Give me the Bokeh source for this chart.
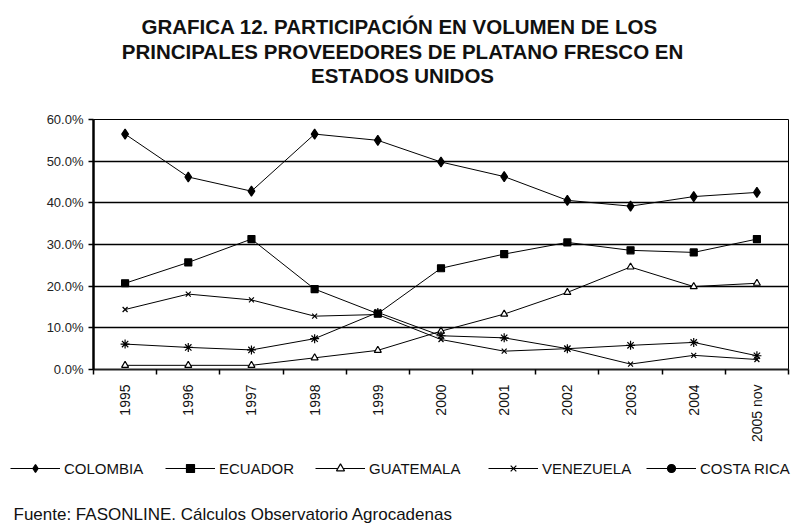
import math
import numpy as np
from bokeh.plotting import figure
from bokeh.layouts import column
from bokeh.models import (Range1d, FixedTicker, PrintfTickFormatter, Label,
                          Legend, LegendItem)
from bokeh.embed import file_html
from bokeh.resources import INLINE

# ---------------- data ----------------
years = ["1995", "1996", "1997", "1998", "1999", "2000", "2001", "2002",
         "2003", "2004", "2005 nov"]
colombia = [56.5, 46.2, 42.8, 56.5, 55.0, 49.8, 46.3, 40.6, 39.2, 41.5, 42.5]
ecuador = [20.7, 25.7, 31.3, 19.3, 13.4, 24.3, 27.7, 30.5, 28.6, 28.1, 31.3]
guatemala = [1.0, 1.0, 1.0, 2.8, 4.6, 9.2, 13.3, 18.5, 24.6, 19.9, 20.7]
venezuela = [14.4, 18.1, 16.7, 12.8, 13.2, 7.2, 4.4, 5.0, 1.3, 3.4, 2.4]
costa_rica = [6.1, 5.3, 4.7, 7.4, 13.7, 8.1, 7.6, 5.0, 5.8, 6.5, 3.3]

series_names = ["COLOMBIA", "ECUADOR", "GUATEMALA", "VENEZUELA", "COSTA RICA"]
title_lines = ["GRAFICA 12.  PARTICIPACIÓN EN VOLUMEN DE LOS",
               "PRINCIPALES PROVEEDORES DE PLATANO FRESCO EN",
               "ESTADOS UNIDOS"]
source_text = "Fuente: FASONLINE. Cálculos Observatorio Agrocadenas"

FONT = "Liberation Sans"
W = 795
TOP_H = 109
CH_TOP, CH_FRAME, CH_BOT = 10, 250, 85
CH_H = CH_TOP + CH_FRAME + CH_BOT
BOT_H = 525 - TOP_H - CH_H
FL, FR = 93, 788


def no_align(f):
    try:
        f.frame_align = False
    except AttributeError:
        pass


def blank_fig(h):
    f = figure(width=W, height=h, output_backend="svg", toolbar_location=None,
               x_range=Range1d(0, W), y_range=Range1d(0, h),
               x_axis_type=None, y_axis_type=None,
               min_border=0, min_border_left=0, min_border_right=0,
               min_border_top=0, min_border_bottom=0)
    f.outline_line_color = None
    f.xgrid.grid_line_color = None
    f.ygrid.grid_line_color = None
    f.background_fill_color = "white"
    f.border_fill_color = "white"
    no_align(f)
    return f


# ---------------- title figure ----------------
top = blank_fig(TOP_H)
for i, line in enumerate(title_lines):
    top.add_layout(Label(x=402, y=TOP_H - (26 + 24.5 * i), x_units="screen", y_units="screen",
                         text=line, text_align="center", text_baseline="alphabetic",
                         text_font=FONT, text_font_style="bold", text_font_size="20.5px",
                         text_color="#111"))

# ---------------- chart figure ----------------
p = figure(width=W, height=CH_H, output_backend="svg", toolbar_location=None,
           x_range=Range1d(0, len(years)), y_range=Range1d(0, 60),
           min_border_left=FL, min_border_right=W - FR,
           min_border_top=CH_TOP, min_border_bottom=CH_BOT)
no_align(p)
p.background_fill_color = "white"
p.border_fill_color = "white"
p.outline_line_color = "black"
p.outline_line_width = 1

xs = np.arange(len(years)) + 0.5

p.xaxis.ticker = FixedTicker(ticks=list(xs), minor_ticks=list(range(len(years) + 1)))
p.xaxis.major_label_overrides = {float(x): y for x, y in zip(xs, years)}
p.xaxis.major_label_orientation = math.pi / 2
p.xaxis.major_tick_line_color = None
p.xaxis.major_tick_out = 0
p.xaxis.major_tick_in = 0
p.xaxis.minor_tick_out = 5
p.xaxis.minor_tick_in = 0
p.xaxis.minor_tick_line_color = "black"
p.xaxis.minor_tick_line_width = 1.5
p.xaxis.major_label_standoff = 10
p.xaxis.major_label_text_font = FONT
p.xaxis.major_label_text_font_size = "14px"
p.xaxis.major_label_text_color = "#111"
p.xaxis.axis_line_width = 2
p.xaxis.axis_line_color = "#222"

p.yaxis.ticker = FixedTicker(ticks=[0, 10, 20, 30, 40, 50, 60])
p.yaxis.formatter = PrintfTickFormatter(format="%.1f%%")
p.yaxis.minor_tick_line_color = None
p.yaxis.major_tick_out = 5
p.yaxis.major_tick_in = 0
p.yaxis.major_tick_line_width = 1.5
p.yaxis.major_label_standoff = 5
p.yaxis.major_label_text_font = FONT
p.yaxis.major_label_text_font_size = "13px"
p.yaxis.major_label_text_color = "#222"
p.yaxis.axis_line_width = 2.5
p.yaxis.axis_line_color = "black"

p.xgrid.grid_line_color = None
p.ygrid.ticker = FixedTicker(ticks=[10, 20, 30, 40, 50, 60])
p.ygrid.grid_line_color = "black"
p.ygrid.grid_line_width = 1.5

styles = [
    (colombia, dict(marker="diamond", size=10, fill_color="black")),
    (ecuador, dict(marker="square", size=7, fill_color="black")),
    (guatemala, dict(marker="triangle", size=7, fill_color="white")),
    (venezuela, dict(marker="x", size=7, fill_color="black")),
    (costa_rica, dict(marker="asterisk", size=9, fill_color="black")),
]
for vals, st in styles:
    p.line(xs, vals, line_color="black", line_width=1)
    p.scatter(xs, vals, line_color="black", line_width=1.2, **st)

# ---------------- legend + source figure ----------------
bot = blank_fig(BOT_H)
leg_x = [10, 165, 315, 488, 646]
leg_markers = [dict(marker="diamond", size=8, fill_color="black"),
               dict(marker="square", size=7, fill_color="black"),
               dict(marker="triangle", size=7, fill_color="white"),
               dict(marker="x", size=7, fill_color="black"),
               dict(marker="circle", size=4, fill_color="black")]
for name, st, lx in zip(series_names, leg_markers, leg_x):
    # legend-only renderers (a single NaN point, nothing is drawn in the plot)
    lr = bot.line(x=[np.nan], y=[np.nan], line_color="black", line_width=1.2)
    sr = bot.scatter(x=[np.nan], y=[np.nan], line_color="black", line_width=1.2, **st)
    leg = Legend(items=[LegendItem(label=name, renderers=[lr, sr])],
                 location=(lx, BOT_H - 24), orientation="horizontal",
                 border_line_color=None, background_fill_alpha=0,
                 padding=0, margin=0, glyph_width=50, glyph_height=20,
                 label_height=20, label_standoff=4,
                 label_text_font=FONT, label_text_font_size="15px",
                 label_text_color="#111")
    bot.add_layout(leg, "center")

bot.add_layout(Label(x=13, y=BOT_H - 60, x_units="screen", y_units="screen",
                     text=source_text, text_align="left", text_baseline="alphabetic",
                     text_font=FONT, text_font_size="17px", text_color="#111"))

layout = column(top, p, bot, spacing=0)
open("out.html", "w").write(file_html(layout, INLINE))
